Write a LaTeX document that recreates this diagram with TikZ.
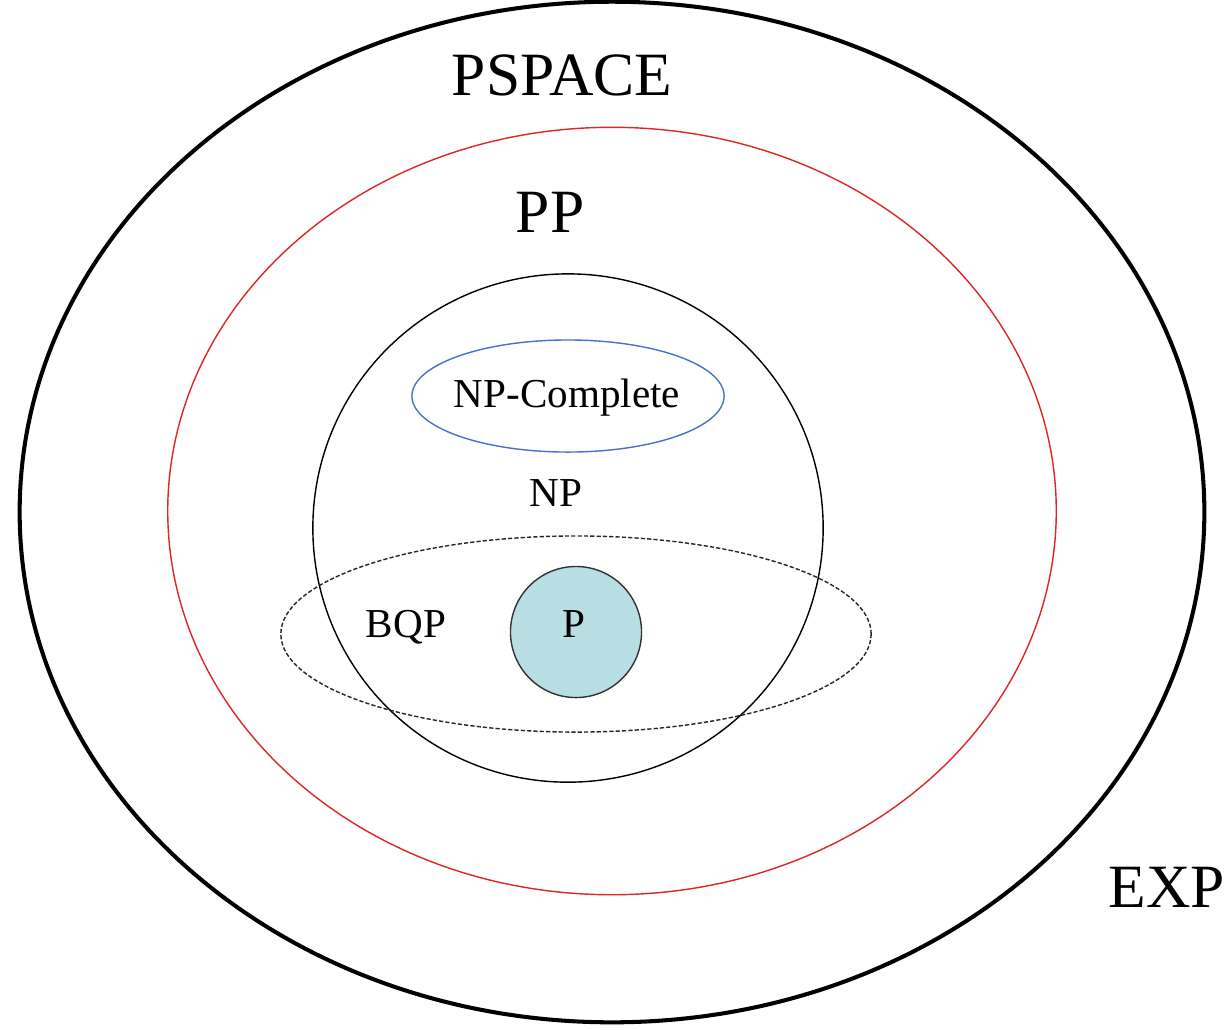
\documentclass[tikz,border=0pt]{standalone}
\usepackage{fontspec}
\setmainfont{Liberation Serif}
\usetikzlibrary{shapes.geometric}
\definecolor{ppRed}{RGB}{222,38,38}
\definecolor{npcBlue}{RGB}{72,112,205}
\definecolor{pFill}{RGB}{183,222,226}
\tikzset{
  classSet/.style = {ellipse, draw=#1, inner sep=0pt},
  bigLbl/.style   = {anchor=base, inner sep=0pt,
                     font=\fontsize{17.5}{20}\selectfont},
  smallLbl/.style = {anchor=base, inner sep=0pt,
                     font=\fontsize{11.7}{14}\selectfont},
}

\begin{document}
\begin{tikzpicture}[x=0.01cm,y=-0.01cm]
  \useasboundingbox (0,0) rectangle (1231,1029);
  % nested classes
  \node[classSet=black, line width=1.15pt, minimum width=11.84cm,
        minimum height=10.2cm] (exp) at (612,512) {};
  \node[classSet=ppRed, minimum width=8.88cm, minimum height=7.67cm]
        (pp) at (612,511) {};
  \node[classSet=black, minimum width=5.1cm, minimum height=5.08cm]
        (np) at (568,528) {};
  \node[classSet=npcBlue, minimum width=3.12cm, minimum height=1.12cm]
        (npc) at (568,396) {};
  \node[classSet=black!85, dashed, dash pattern=on 1.2pt off 0.6pt,
        minimum width=5.9cm, minimum height=1.96cm] (bqp) at (576,634) {};
  \node[classSet=black!80, fill=pFill, minimum width=1.31cm,
        minimum height=1.31cm] (p) at (576,632) {};
  % labels
  \node[bigLbl] (pspaceLbl) at (562,95) {PSPACE};
  \node[bigLbl] (ppLbl) at (550,232) {PP};
  \node[bigLbl] (expLbl) at (1167,907) {EXP};
  \node[smallLbl] (npcLbl) at (567,407) {NP-Complete};
  \node[smallLbl] (npLbl) at (556,506) {NP};
  \node[smallLbl] (bqpLbl) at (406,637) {BQP};
  \node[smallLbl] (pLbl) at (574,637) {P};
\end{tikzpicture}
\end{document}
